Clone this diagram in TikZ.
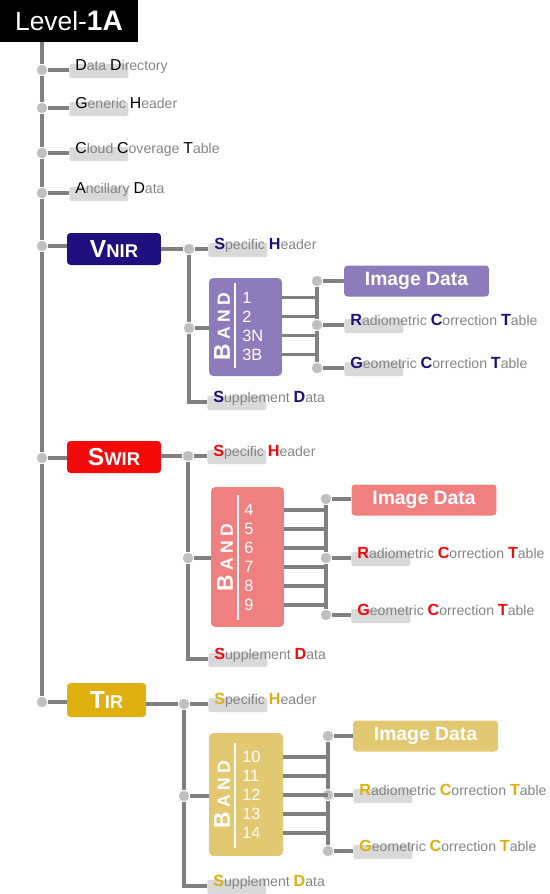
\documentclass[tikz,border=0pt]{standalone}
\usepackage{fontspec}
\setmainfont{Liberation Sans}

\definecolor{vnirc}{HTML}{20107F}
\definecolor{vnirl}{HTML}{8E7BBB}
\definecolor{swirc}{HTML}{F50A0A}
\definecolor{swirl}{HTML}{F08080}
\definecolor{tirc}{HTML}{E0B010}
\definecolor{tirl}{HTML}{E2C870}
\definecolor{wiregray}{HTML}{808080}
\definecolor{jointgray}{HTML}{C0C0C0}
\definecolor{taggray}{HTML}{D9D9D9}
\definecolor{textgray}{HTML}{858585}

% first letters of the label words
\newcommand\ini[2]{{\fontsize{9.2}{10}\selectfont\bfseries\color{#1}#2}}
\newcommand\inb[1]{{\fontsize{9}{10}\selectfont\color{black}#1}}
% big first letter, small caps after it
\newcommand\bigsmall[2]{{\fontsize{14}{14}\selectfont #1}{\fontsize{10.5}{10}\selectfont #2}}
\newcommand\bandword{{\fontsize{13}{13}\selectfont B}\hspace{2.5pt}{\fontsize{10}{10}\selectfont A\hspace{2.5pt}N\hspace{2.5pt}D}}
% gray tag under a label: name, left x, wire y, text
\newcommand\tagged[4]{%
  \node[tagbox] (#1-bg) at (#2,#3+1) {};
  \node[tagtext] (#1) at (#2+6,#3+0.5) {#4};}

\begin{document}
\begin{tikzpicture}[
    x=0.02cm, y=-0.02cm,
    wire/.style={draw=wiregray, line width=1.9pt},
    joint/.style={circle, fill=jointgray, inner sep=0pt, minimum size=0.21cm},
    tagbox/.style={fill=taggray, rounded corners=1.2pt, minimum width=1.18cm,
                   minimum height=0.28cm, inner sep=0pt, anchor=west},
    tagtext/.style={anchor=base west, inner sep=0pt, text=textgray,
                    font=\fontsize{8}{10}\selectfont},
    sensor/.style={fill=#1, rounded corners=2pt, minimum height=0.64cm,
                   text=white, inner sep=0pt, font=\bfseries},
    bandbox/.style={fill=#1, rounded corners=2.5pt, minimum width=1.46cm, inner sep=0pt},
    bandtxt/.style={rotate=90, text=white, inner sep=0pt, font=\bfseries},
    num/.style={anchor=west, inner sep=0pt, text=white, font=\fontsize{9.3}{10}\selectfont},
    imgbox/.style={fill=#1, rounded corners=2pt, minimum width=2.9cm, minimum height=0.62cm,
                   text=white, inner sep=0pt, font=\fontsize{11}{12}\selectfont\bfseries},
  ]
  \useasboundingbox (0,0) rectangle (550,894);

  % --- spine ---
  \node[fill=black, text=white, minimum width=2.76cm, minimum height=0.84cm, inner sep=0pt]
    (title) at (69,21) {{\fontsize{15}{16}\selectfont Level-}{\fontsize{16}{16}\selectfont\bfseries 1A}};
  \foreach \y [count=\i] in {70,108,153,193,246,458,702} {
    \node[joint] (m\i) at (42,\y) {};
  }
  \draw[wire] (title.south -| m1) -- (m1);
  \foreach \i/\j in {1/2,2/3,3/4,4/5,5/6,6/7} {
    \draw[wire] (m\i) -- (m\j);
  }

  \tagged{dir}{69}{70}{\inb{D}ata \inb{D}irectory}
  \tagged{gen}{69}{108}{\inb{G}eneric \inb{H}eader}
  \tagged{cloud}{69}{153}{\inb{C}loud \inb{C}overage \inb{T}able}
  \tagged{anc}{69}{193}{\inb{A}ncillary \inb{D}ata}
  \foreach \i/\lab in {1/dir,2/gen,3/cloud,4/anc} {
    \draw[wire] (m\i) -- (m\i -| \lab-bg.west);
  }

  % --- VNIR ---
  \node[sensor=vnirc, minimum width=1.88cm] (vnir) at (114,249) {\bigsmall{V}{NIR}};
  \node[joint] (va) at (189,249) {};
  \node[joint] (vb) at (189,328) {};
  \coordinate (vc) at (189,402);
  \tagged{vspec}{208}{249}{\ini{vnirc}{S}pecific \ini{vnirc}{H}eader}
  \tagged{vsup}{207}{402}{\ini{vnirc}{S}upplement \ini{vnirc}{D}ata}
  \node[bandbox=vnirl, minimum height=1.96cm] (vband) at (245.5,327) {};
  \node[bandtxt] (vbandt) at (222,327) {\bandword};
  \draw[white, line width=0.8pt] (235,283) -- (235,368);
  \foreach \lbl [count=\i] in {1,2,3N,3B} {
    \node[num] (vn\i) at (242,278.5+\i*19) {\lbl};
  }
  \node[joint] (vt) at (317,281) {};
  \node[joint] (vm) at (317,325) {};
  \node[joint] (vbo) at (317,368) {};
  \node[imgbox=vnirl] (vimg) at (416.5,281) {Image Data};
  \tagged{vrad}{344}{325}{\ini{vnirc}{R}adiometric \ini{vnirc}{C}orrection \ini{vnirc}{T}able}
  \tagged{vgeo}{344}{368}{\ini{vnirc}{G}eometric \ini{vnirc}{C}orrection \ini{vnirc}{T}able}

  \draw[wire] (m5) -- (m5 -| vnir.west);
  \draw[wire] (vnir.east |- va) -- (va);
  \draw[wire] (va) -- (va -| vspec-bg.west);
  \draw[wire] (va) -- (vb);
  \draw[wire] (vb) -- (vb -| vband.west);
  \draw[wire] (vb) |- (vc -| vsup-bg.west);
  \foreach \i in {1,...,4} {
    \draw[wire] (vband.east |- vn\i) -- (vt |- vn\i);
  }
  \draw[wire] (vt) -- (vm) (vm) -- (vbo);
  \draw[wire] (vt) -- (vt -| vimg.west);
  \draw[wire] (vm) -- (vm -| vrad-bg.west);
  \draw[wire] (vbo) -- (vbo -| vgeo-bg.west);

  % --- SWIR ---
  \node[sensor=swirc, minimum width=1.88cm] (swir) at (114,457) {\bigsmall{S}{WIR}};
  \node[joint] (sa) at (188,456) {};
  \node[joint] (sb) at (188,558) {};
  \coordinate (sc) at (188,659);
  \tagged{sspec}{207}{456}{\ini{swirc}{S}pecific \ini{swirc}{H}eader}
  \tagged{ssup}{208}{659}{\ini{swirc}{S}upplement \ini{swirc}{D}ata}
  \node[bandbox=swirl, minimum height=2.8cm] (sband) at (247.5,557) {};
  \node[bandtxt] (sbandt) at (225,558) {\bandword};
  \draw[white, line width=0.8pt] (238,495) -- (238,620);
  \foreach \lbl [count=\i] in {4,5,6,7,8,9} {
    \node[num] (sn\i) at (244,491+\i*19) {\lbl};
  }
  \node[joint] (st) at (326,499) {};
  \node[joint] (sm) at (326,558) {};
  \node[joint] (sbo) at (326,615) {};
  \node[imgbox=swirl] (simg) at (424,500) {Image Data};
  \tagged{srad}{351}{558}{\ini{swirc}{R}adiometric \ini{swirc}{C}orrection \ini{swirc}{T}able}
  \tagged{sgeo}{351}{615}{\ini{swirc}{G}eometric \ini{swirc}{C}orrection \ini{swirc}{T}able}

  \draw[wire] (m6) -- (m6 -| swir.west);
  \draw[wire] (swir.east |- sa) -- (sa);
  \draw[wire] (sa) -- (sa -| sspec-bg.west);
  \draw[wire] (sa) -- (sb);
  \draw[wire] (sb) -- (sb -| sband.west);
  \draw[wire] (sb) |- (sc -| ssup-bg.west);
  \foreach \i in {1,...,6} {
    \draw[wire] (sband.east |- sn\i) -- (st |- sn\i);
  }
  \draw[wire] (st) -- (sm) (sm) -- (sbo);
  \draw[wire] (st) -- (st -| simg.west);
  \draw[wire] (sm) -- (sm -| srad-bg.west);
  \draw[wire] (sbo) -- (sbo -| sgeo-bg.west);

  % --- TIR ---
  \node[sensor=tirc, minimum width=1.58cm, minimum height=0.68cm] (tir) at (106.5,700) {\bigsmall{T}{IR}};
  \node[joint] (ta) at (184,704) {};
  \node[joint] (tb) at (184,796) {};
  \coordinate (tc) at (184,886);
  \tagged{tspec}{208}{704}{\ini{tirc}{S}pecific \ini{tirc}{H}eader}
  \tagged{tsup}{207}{886}{\ini{tirc}{S}upplement \ini{tirc}{D}ata}
  \node[bandbox=tirl, minimum width=1.48cm, minimum height=2.46cm] (tband) at (246,794.5) {};
  \node[bandtxt] (tbandt) at (222,795) {\bandword};
  \draw[white, line width=0.8pt] (235,743) -- (235,848);
  \foreach \lbl [count=\i] in {10,11,12,13,14} {
    \node[num] (tn\i) at (242,738+\i*19) {\lbl};
  }
  \node[joint] (tt) at (328,736) {};
  \node[joint] (tm) at (328,795) {};
  \node[joint] (tbo) at (328,851) {};
  \node[imgbox=tirl] (timg) at (425.5,736) {Image Data};
  \tagged{trad}{353}{795}{\ini{tirc}{R}adiometric \ini{tirc}{C}orrection \ini{tirc}{T}able}
  \tagged{tgeo}{353}{851}{\ini{tirc}{G}eometric \ini{tirc}{C}orrection \ini{tirc}{T}able}

  \draw[wire] (m7) -- (m7 -| tir.west);
  \draw[wire] (tir.east |- ta) -- (ta);
  \draw[wire] (ta) -- (ta -| tspec-bg.west);
  \draw[wire] (ta) -- (tb);
  \draw[wire] (tb) -- (tb -| tband.west);
  \draw[wire] (tb) |- (tc -| tsup-bg.west);
  \foreach \i in {1,...,5} {
    \draw[wire] (tband.east |- tn\i) -- (tt |- tn\i);
  }
  \draw[wire] (tt) -- (tm) (tm) -- (tbo);
  \draw[wire] (tt) -- (tt -| timg.west);
  \draw[wire] (tm) -- (tm -| trad-bg.west);
  \draw[wire] (tbo) -- (tbo -| tgeo-bg.west);
\end{tikzpicture}
\end{document}
